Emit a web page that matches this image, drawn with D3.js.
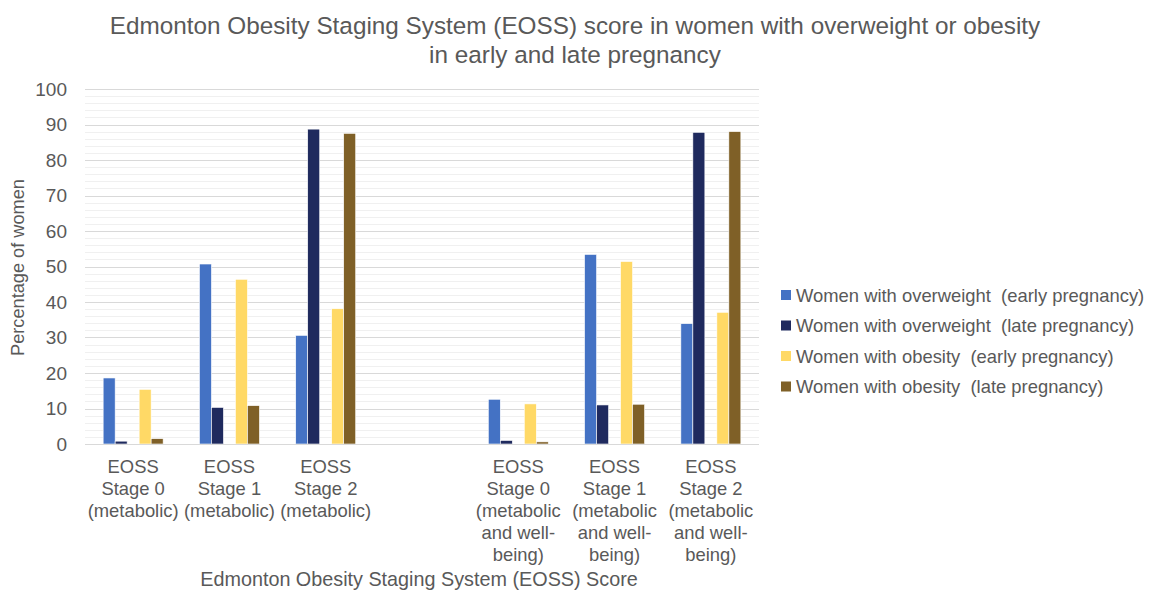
<!DOCTYPE html>
<html>
<head>
<meta charset="utf-8">
<script src="https://cdn.jsdelivr.net/npm/d3@7"></script>
<style>
  html, body { margin: 0; padding: 0; background: #fff; }
  svg { display: block; font-family: "Liberation Sans", Arial, sans-serif; }
  text { white-space: pre; }
</style>
</head>
<body>
<svg id="chart" width="1150" height="590"></svg>
<script>
// ---- data ----
const categories = [
  "EOSS\nStage 0\n(metabolic)",
  "EOSS\nStage 1\n(metabolic)",
  "EOSS\nStage 2\n(metabolic)",
  "",
  "EOSS\nStage 0\n(metabolic\nand well-\nbeing)",
  "EOSS\nStage 1\n(metabolic\nand well-\nbeing)",
  "EOSS\nStage 2\n(metabolic\nand well-\nbeing)"
];
const seriesNames = [
  "Women with overweight  (early pregnancy)",
  "Women with overweight  (late pregnancy)",
  "Women with obesity  (early pregnancy)",
  "Women with obesity  (late pregnancy)"
];
const owEarly = [18.6, 50.7, 30.6, null, 12.6, 53.4, 33.9];
const owLate  = [0.8, 10.3, 88.7, null, 1.0, 11.0, 87.8];
const obEarly = [15.4, 46.4, 38.1, null, 11.3, 51.4, 37.1];
const obLate  = [1.5, 10.8, 87.5, null, 0.6, 11.2, 88.0];
const yTicks = [0, 10, 20, 30, 40, 50, 60, 70, 80, 90, 100];
const colors = ["#4472C4", "#1F2A5E", "#FFD966", "#7F6027"];

const seriesValues = [owEarly, owLate, obEarly, obLate];
// sub-band slots: an empty slot sits between the overweight and obesity bars
const slotKeys = ["s0", "s1", "gap", "s2", "s3"];
const seriesSlot = ["s0", "s1", "s2", "s3"];

// ---- layout ----
(function () {
const svg = d3.select("#chart");
const textColor = "#595959";
const pLeft = 85, pRight = 759, pTop = 89, pBottom = 444;

const x0 = d3.scaleBand().domain(d3.range(categories.length)).range([pLeft, pRight])
  .paddingInner(0.377).paddingOuter(0.1885);
const x1 = d3.scaleBand().domain(slotKeys).range([0, x0.bandwidth()]);
const y = d3.scaleLinear().domain([0, 100]).range([pBottom, pTop]);

// minor gridlines
const minor = d3.range(0, 101, 2).filter(v => v % 10 !== 0);
svg.append("g").selectAll("line").data(minor).join("line")
  .attr("x1", pLeft).attr("x2", pRight)
  .attr("y1", d => Math.round(y(d)) + 0.5).attr("y2", d => Math.round(y(d)) + 0.5)
  .attr("stroke", "#f0f0f0").attr("stroke-width", 1);

// major gridlines
svg.append("g").selectAll("line").data(yTicks.filter(v => v > 0)).join("line")
  .attr("x1", pLeft).attr("x2", pRight)
  .attr("y1", d => Math.round(y(d)) + 0.5).attr("y2", d => Math.round(y(d)) + 0.5)
  .attr("stroke", "#d9d9d9").attr("stroke-width", 1);

// bars
const barsG = svg.append("g");
seriesValues.forEach((vals, si) => {
  barsG.append("g").selectAll("rect")
    .data(vals.map((v, i) => ({ v, i })).filter(d => d.v !== null))
    .join("rect")
    .attr("x", d => x0(d.i) + x1(seriesSlot[si]))
    .attr("width", x1.bandwidth())
    .attr("y", d => y(d.v))
    .attr("height", d => y(0) - y(d.v))
    .attr("fill", colors[si])
    .attr("stroke", "#ffffff").attr("stroke-width", 0.6);
});

// x axis line
svg.append("line")
  .attr("x1", pLeft).attr("x2", pRight)
  .attr("y1", pBottom + 0.5).attr("y2", pBottom + 0.5)
  .attr("stroke", "#d9d9d9").attr("stroke-width", 1.2);

// y axis tick labels
const yAxis = d3.axisLeft(y).tickValues(yTicks).tickSize(0).tickPadding(0);
const yg = svg.append("g").attr("transform", "translate(67,0)").call(yAxis);
yg.select(".domain").remove();
yg.selectAll("text")
  .attr("fill", textColor).style("font-size", "19px")
  .style("font-family", '"Liberation Sans", Arial, sans-serif');

// x tick labels (multi-line)
const xg = svg.append("g");
categories.forEach((c, i) => {
  if (!c) return;
  const cx = x0(i) + x0.bandwidth() / 2;
  const t = xg.append("text").attr("text-anchor", "middle")
    .attr("fill", textColor).style("font-size", "18.4px");
  c.split("\n").forEach((line, k) => {
    t.append("tspan").attr("x", cx).attr("y", 473 + k * 22).text(line);
  });
});

// axis titles
svg.append("text").attr("x", 419).attr("y", 586)
  .attr("text-anchor", "middle").attr("fill", textColor).style("font-size", "19.8px")
  .text("Edmonton Obesity Staging System (EOSS) Score");

svg.append("text")
  .attr("transform", `translate(24,${(pTop + pBottom) / 2 + 1}) rotate(-90)`)
  .attr("text-anchor", "middle").attr("fill", textColor).style("font-size", "18.2px")
  .text("Percentage of women");

// title
const title = svg.append("text").attr("text-anchor", "middle")
  .attr("fill", textColor).style("font-size", "24.3px");
title.append("tspan").attr("x", 575).attr("y", 34)
  .text("Edmonton Obesity Staging System (EOSS) score in women with overweight or obesity");
title.append("tspan").attr("x", 575).attr("y", 63)
  .text("in early and late pregnancy");

// legend
const lg = svg.append("g");
seriesNames.forEach((name, i) => {
  const cy = 295 + i * 30.5;
  lg.append("rect").attr("x", 781).attr("y", cy - 5).attr("width", 10).attr("height", 10)
    .attr("fill", colors[i]);
  lg.append("text").attr("x", 796).attr("y", cy + 6.5)
    .attr("fill", textColor).style("font-size", "18.4px").text(name);
});
})();
</script>
</body>
</html>
